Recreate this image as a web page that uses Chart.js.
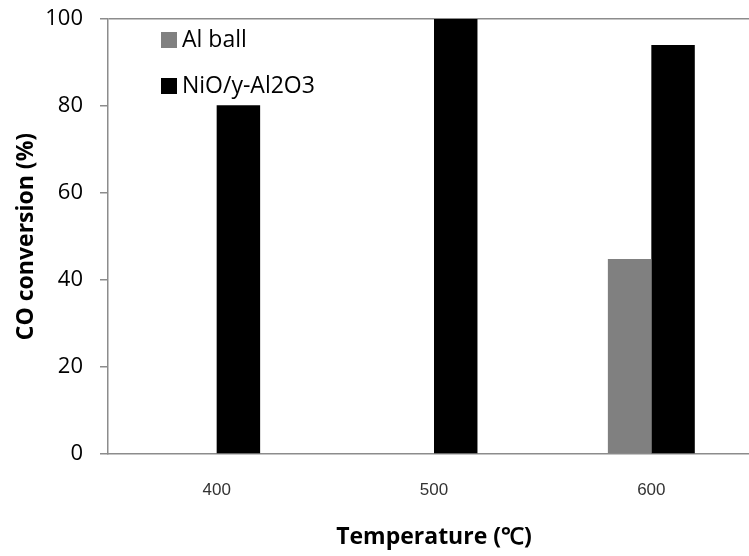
<!DOCTYPE html>
<html>
<head>
<meta charset="utf-8">
<script src="https://cdn.jsdelivr.net/npm/chart.js@4"></script>
<style>
  html, body { margin: 0; padding: 0; background: #fff; overflow: hidden; }
  #wrap { width: 760px; height: 556px; position: relative; }
</style>
</head>
<body>
<div id="wrap"><canvas id="c" width="760" height="556"></canvas></div>
<script>
const categories = ['400', '500', '600'];
const alBall = [0, 0, 44.8];
const nio = [80.2, 100, 94.0];
const seriesLabels = ['Al ball', 'NiO/y-Al2O3'];
const yTicks = [0, 20, 40, 60, 80, 100];

const legendPlugin = {
  id: 'insideLegend',
  afterDraw(chart) {
    const ctx = chart.ctx;
    ctx.save();
    ctx.font = '23px "Open Sans"';
    ctx.textBaseline = 'middle';
    ctx.textAlign = 'left';
    chart.data.datasets.forEach((ds, i) => {
      const y = 32 + i * 46;
      ctx.fillStyle = ds.backgroundColor;
      ctx.fillRect(161, y, 16, 16);
      ctx.fillStyle = '#000';
      ctx.fillText(ds.label, 182, y + 8);
    });
    ctx.restore();
  }
};

new Chart(document.getElementById('c'), {
  type: 'bar',
  data: {
    labels: categories,
    datasets: [
      { label: seriesLabels[0], data: alBall, backgroundColor: '#808080', borderWidth: 0 },
      { label: seriesLabels[1], data: nio, backgroundColor: '#000000', borderWidth: 0 }
    ]
  },
  options: {
    responsive: false,
    animation: false,
    devicePixelRatio: 1,
    layout: { padding: { top: 19, right: 0, left: 0, bottom: 0 } },
    plugins: { legend: { display: false }, tooltip: { enabled: false } },
    datasets: { bar: { categoryPercentage: 0.4, barPercentage: 1.0 } },
    scales: {
      x: {
        grid: { display: true, color: 'rgba(0,0,0,0)', drawTicks: false },
        border: { display: true, color: '#8c8c8c', width: 1.5 },
        ticks: { font: { family: '"Liberation Sans"', size: 17 }, color: '#333', padding: 26 },
        title: { display: true, text: 'Temperature (℃)', font: { family: '"Open Sans"', size: 23, weight: 'bold' }, color: '#000', padding: { top: 0, bottom: 5 } },
        afterFit(s) { s.height = 102; }
      },
      y: {
        min: 0, max: 100,
        afterBuildTicks(s) { s.ticks = yTicks.map(v => ({ value: v })); },
        grid: {
          color: (c) => (c.tick && c.tick.value === 100) ? '#8c8c8c' : 'rgba(0,0,0,0)',
          lineWidth: 1.5,
          tickColor: '#8c8c8c',
          tickLength: 8,
          drawTicks: true
        },
        border: { display: true, color: '#8c8c8c', width: 1.5 },
        ticks: { font: { family: '"Open Sans"', size: 22, lineHeight: 0.1 }, color: '#000', padding: 17 },
        title: { display: true, text: 'CO conversion (%)', font: { family: '"Open Sans"', size: 23, weight: 'bold' }, color: '#000', padding: { top: 13, bottom: 0 } },
        afterFit(s) { s.width = 108; }
      }
    }
  },
  plugins: [legendPlugin]
});
</script>
</body>
</html>
